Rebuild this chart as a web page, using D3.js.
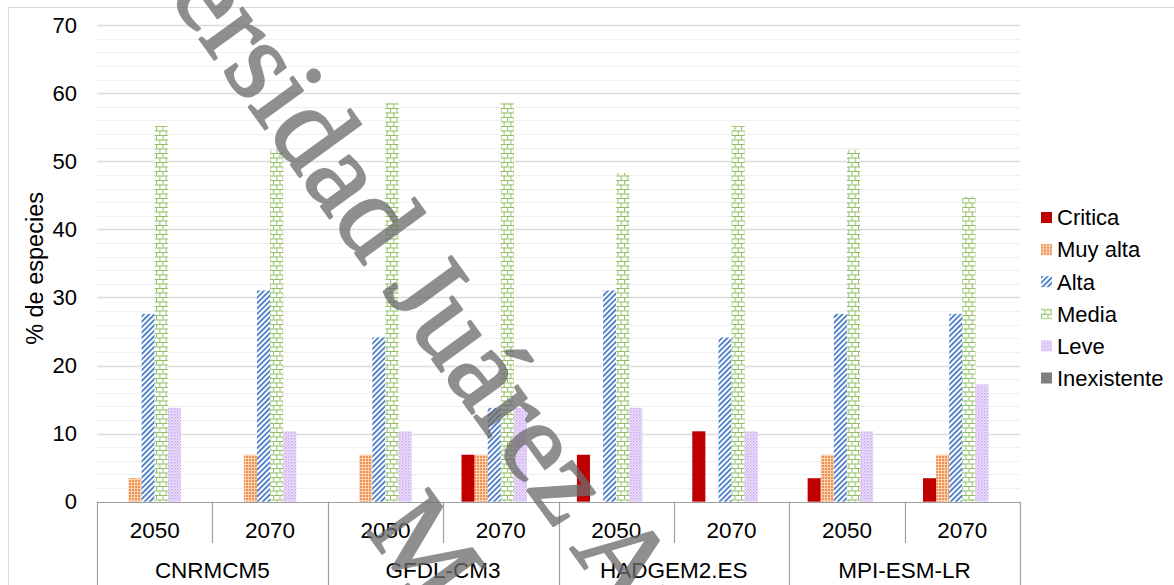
<!DOCTYPE html>
<html>
<head>
<meta charset="utf-8">
<script src="https://cdn.jsdelivr.net/npm/d3@7"></script>
<style>
  html, body { margin: 0; padding: 0; background: #ffffff; }
  svg { display: block; }
</style>
</head>
<body>
<svg id="chart" width="1174" height="585"></svg>
<script>
// ---- data: % of species per risk level, for each model and horizon ----
const models = ["CNRMCM5", "GFDL-CM3", "HADGEM2.ES", "MPI-ESM-LR"];
const years = ["2050", "2070"];
const seriesNames = ["Critica", "Muy alta", "Alta", "Media", "Leve", "Inexistente"];

// one value per category, ordered model by model, 2050 then 2070
const critica     = [0, 0, 0, 6.9, 6.9, 10.34, 3.45, 3.45];
const muyAlta     = [3.45, 6.9, 6.9, 6.9, 0, 0, 6.9, 6.9];
const alta        = [27.59, 31.03, 24.14, 13.79, 31.03, 24.14, 27.59, 27.59];
const media       = [55.17, 51.72, 58.62, 58.62, 48.28, 55.17, 51.72, 44.83];
const leve        = [13.79, 10.34, 10.34, 13.79, 13.79, 10.34, 10.34, 17.24];
const inexistente = [0, 0, 0, 0, 0, 0, 0, 0];

const yTicks = [0, 10, 20, 30, 40, 50, 60, 70];
const yMinorStep = 2;

const seriesValues = [critica, muyAlta, alta, media, leve, inexistente];

// ---- layout ----
const W = 1174, H = 585;
const plot = { left: 97, right: 1020, top: 25.2, bottom: 501.7 };
const font = "'Liberation Sans', Arial, Helvetica, sans-serif";

const svg = d3.select("#chart");

// ---- fill patterns ----
const defs = svg.append("defs");

// Muy alta: fine orange check
const pMuy = defs.append("pattern").attr("id", "p-muyalta")
  .attr("patternUnits", "userSpaceOnUse").attr("width", 3).attr("height", 3);
pMuy.append("rect").attr("width", 3).attr("height", 3).attr("fill", "#fad3b5");
pMuy.append("rect").attr("width", 2).attr("height", 2).attr("fill", "#f09050");

// Alta: blue upward diagonal stripes
const pAlta = defs.append("pattern").attr("id", "p-alta")
  .attr("patternUnits", "userSpaceOnUse").attr("width", 3.8).attr("height", 10)
  .attr("patternTransform", "rotate(45)");
pAlta.append("rect").attr("width", 3.8).attr("height", 10).attr("fill", "#ffffff");
pAlta.append("rect").attr("width", 1.8).attr("height", 10).attr("fill", "#4a7cc9");

// Media: green brick
const pMedia = defs.append("pattern").attr("id", "p-media")
  .attr("patternUnits", "userSpaceOnUse").attr("width", 6.5).attr("height", 9);
pMedia.append("rect").attr("width", 6.5).attr("height", 9).attr("fill", "#ffffff");
pMedia.append("rect").attr("y", 0).attr("width", 6.5).attr("height", 1).attr("fill", "#8fbf62");
pMedia.append("rect").attr("y", 4.5).attr("width", 6.5).attr("height", 1).attr("fill", "#8fbf62");
pMedia.append("rect").attr("x", 0).attr("y", 0).attr("width", 1).attr("height", 4.5).attr("fill", "#8fbf62");
pMedia.append("rect").attr("x", 3.25).attr("y", 4.5).attr("width", 1).attr("height", 4.5).attr("fill", "#8fbf62");

// Leve: light purple dots
const pLeve = defs.append("pattern").attr("id", "p-leve")
  .attr("patternUnits", "userSpaceOnUse").attr("width", 3).attr("height", 3);
pLeve.append("rect").attr("width", 3).attr("height", 3).attr("fill", "#efe4fb");
pLeve.append("rect").attr("width", 1.5).attr("height", 1.5).attr("fill", "#c7a6ef");
pLeve.append("rect").attr("x", 1.5).attr("y", 1.5).attr("width", 1.5).attr("height", 1.5).attr("fill", "#d9c2f5");

const seriesFill = ["#c00000", "url(#p-muyalta)", "url(#p-alta)", "url(#p-media)", "url(#p-leve)", "#7f7f7f"];

// ---- outer chart frame ----
svg.append("path")
  .attr("d", `M8.5,${H} V7.5 H${W}`)
  .attr("fill", "none").attr("stroke", "#d9d9d9").attr("stroke-width", 1);

// ---- scales ----
const categories = [];
models.forEach(m => years.forEach(y => categories.push(m + "|" + y)));

const x = d3.scaleBand().domain(categories).range([plot.left, plot.right]).paddingInner(0).paddingOuter(0);
const xModel = d3.scaleBand().domain(models).range([plot.left, plot.right]);
const groupWidth = 78.6;
const xInner = d3.scaleBand().domain(seriesNames)
  .range([(x.bandwidth() - groupWidth) / 2, (x.bandwidth() + groupWidth) / 2]);

const y = d3.scaleLinear().domain([0, 70]).range([plot.bottom, plot.top]);

// ---- gridlines ----
const minorTicks = d3.range(0, 70 + 0.001, yMinorStep).filter(v => !yTicks.includes(v));
svg.append("g").selectAll("line").data(minorTicks).join("line")
  .attr("x1", plot.left).attr("x2", plot.right)
  .attr("y1", d => Math.round(y(d)) + 0.5).attr("y2", d => Math.round(y(d)) + 0.5)
  .attr("stroke", "#f0f0f0").attr("stroke-width", 1);
svg.append("g").selectAll("line").data(yTicks.filter(v => v > 0)).join("line")
  .attr("x1", plot.left).attr("x2", plot.right)
  .attr("y1", d => Math.round(y(d)) + 0.5).attr("y2", d => Math.round(y(d)) + 0.5)
  .attr("stroke", "#dcdcdc").attr("stroke-width", 1.3);

// ---- y axis ----
const yAxis = svg.append("g")
  .attr("transform", `translate(${plot.left},0)`)
  .call(d3.axisLeft(y).tickValues(yTicks).tickSize(0).tickPadding(20).tickFormat(d3.format("d")));
yAxis.select(".domain").remove();
yAxis.selectAll("text")
  .attr("font-family", font).attr("font-size", 22).attr("fill", "#000");

svg.append("text")
  .attr("transform", `translate(43,${(plot.top + plot.bottom) / 2 + 5}) rotate(-90)`)
  .attr("text-anchor", "middle")
  .attr("font-family", font).attr("font-size", 23.5).attr("fill", "#000")
  .text("% de especies");

// ---- bars ----
const barData = [];
seriesNames.forEach((s, si) => {
  categories.forEach((c, ci) => {
    barData.push({ series: s, si, cat: c, value: seriesValues[si][ci] });
  });
});

svg.append("g").selectAll("rect")
  .data(barData.filter(d => d.value > 0))
  .join("rect")
  .attr("x", d => x(d.cat) + xInner(d.series))
  .attr("width", xInner.bandwidth())
  .attr("y", d => y(d.value))
  .attr("height", d => y(0) - y(d.value))
  .attr("fill", d => seriesFill[d.si]);

// ---- category axis (two levels) ----
const axisColor = "#a0a0a0";
const axisG = svg.append("g");
axisG.append("line")
  .attr("x1", plot.left).attr("x2", plot.right)
  .attr("y1", Math.round(y(0)) + 0.5).attr("y2", Math.round(y(0)) + 0.5)
  .attr("stroke", axisColor).attr("stroke-width", 1.2);

// short separators between years inside each model
axisG.selectAll("line.year-sep")
  .data(models.map(m => m + "|" + years[1]))
  .join("line").attr("class", "year-sep")
  .attr("x1", d => Math.round(x(d)) + 0.5).attr("x2", d => Math.round(x(d)) + 0.5)
  .attr("y1", y(0)).attr("y2", 543)
  .attr("stroke", axisColor).attr("stroke-width", 1.2);

// long separators between models, plus both ends
const modelEdges = models.map(m => xModel(m)).concat([plot.right]);
axisG.selectAll("line.model-sep")
  .data(modelEdges)
  .join("line").attr("class", "model-sep")
  .attr("x1", d => Math.round(d) + 0.5).attr("x2", d => Math.round(d) + 0.5)
  .attr("y1", y(0)).attr("y2", H)
  .attr("stroke", axisColor).attr("stroke-width", 1.2);

axisG.selectAll("text.year")
  .data(categories)
  .join("text").attr("class", "year")
  .attr("x", d => x(d) + x.bandwidth() / 2)
  .attr("y", 538)
  .attr("text-anchor", "middle")
  .attr("font-family", font).attr("font-size", 22.5).attr("fill", "#000")
  .text(d => d.split("|")[1]);

axisG.selectAll("text.model")
  .data(models)
  .join("text").attr("class", "model")
  .attr("x", d => xModel(d) + xModel.bandwidth() / 2)
  .attr("y", 578)
  .attr("text-anchor", "middle")
  .attr("font-family", font).attr("font-size", 22.5).attr("fill", "#000")
  .text(d => d);

// ---- legend ----
const legend = svg.append("g").attr("transform", "translate(1041,0)");
const legendRow = d3.scalePoint().domain(seriesNames).range([217.5, 378]);
const items = legend.selectAll("g").data(seriesNames).join("g")
  .attr("transform", d => `translate(0,${legendRow(d)})`);
items.append("rect")
  .attr("x", 0).attr("y", -5.5).attr("width", 11).attr("height", 11)
  .attr("fill", (d, i) => seriesFill[i]);
items.append("text")
  .attr("x", 16).attr("y", 7.8)
  .attr("font-family", font).attr("font-size", 22).attr("fill", "#000")
  .text(d => d);

// ---- institutional watermark across the chart ----
const wm = svg.append("g").style("pointer-events", "none").attr("opacity", 0.76);
const wmLines = [
  { text: "Universidad Juárez Autónoma de Tabasco", anchor: 12, px: 382, py: 290 },
  { text: "México", anchor: 0, px: 365, py: 530 }
];
wmLines.forEach(l => {
  const t = wm.append("text")
    .attr("font-family", "'Liberation Serif', 'Times New Roman', serif")
    .attr("font-size", 116)
    .attr("fill", "#6c6c6c")
    .attr("stroke", "#6c6c6c").attr("stroke-width", 2.4).attr("stroke-linejoin", "round")
    .text(l.text);
  const p = t.node().getStartPositionOfChar(l.anchor);
  t.attr("transform", `translate(${l.px},${l.py}) rotate(54) translate(${-p.x},${-p.y})`);
});
</script>
</body>
</html>
